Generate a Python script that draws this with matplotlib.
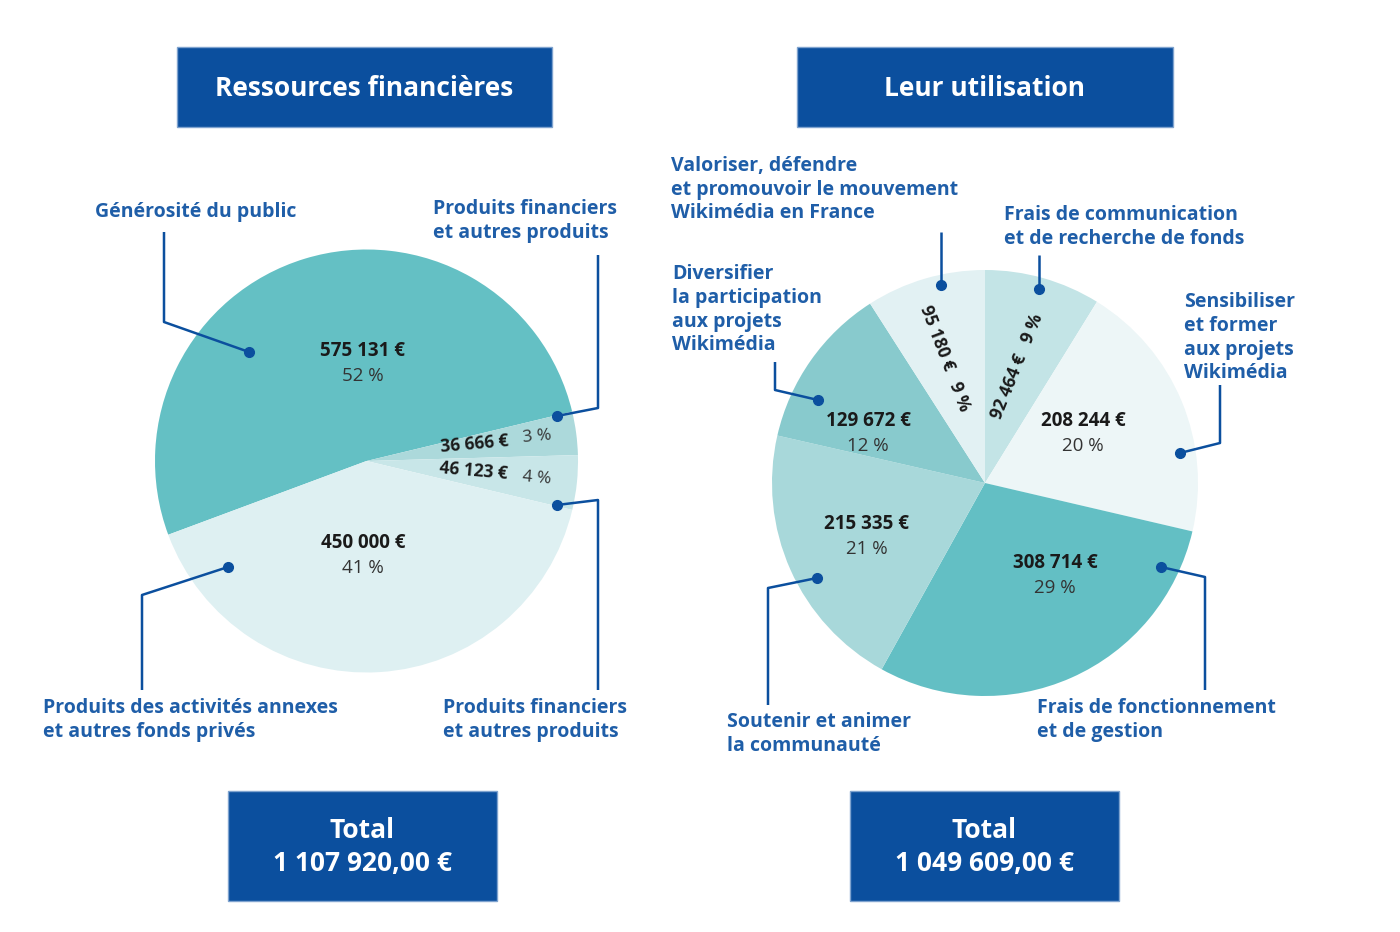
import matplotlib.pyplot as plt
from matplotlib.patches import Rectangle

# données
ressources_labels = ['Générosité du public',
                     'Produits financiers\net autres produits',
                     'Produits financiers\net autres produits',
                     'Produits des activités annexes\net autres fonds privés']
ressources_values = [575131, 36666, 46123, 450000]
ressources_pct = ['52 %', '3 %', '4 %', '41 %']
ressources_colors = ['#64c0c4', '#acd9db', '#c8e6e8', '#def0f2']

emplois_labels = ['Frais de communication\net de recherche de fonds',
                  'Sensibiliser\net former\naux projets\nWikimédia',
                  'Frais de fonctionnement\net de gestion',
                  'Soutenir et animer\nla communauté',
                  'Diversifier\nla participation\naux projets\nWikimédia',
                  'Valoriser, défendre\net promouvoir le mouvement\nWikimédia en France']
emplois_values = [92464, 208244, 308714, 215335, 129672, 95180]
emplois_pct = ['9 %', '20 %', '29 %', '21 %', '12 %', '9 %']
emplois_colors = ['#c3e4e6', '#edf6f7', '#63bfc4', '#a8d8da', '#88cacd', '#e2f1f3']

total_ressources = '1 107 920,00 €'
total_emplois = '1 049 609,00 €'

W, H = 1400, 932
BLUE = '#0b4f9e'
TXT = '#1f5ea8'
FONT = 'Open Sans'


def euro(v):
    return f'{v:,}'.replace(',', ' ') + ' €'


fig = plt.figure(figsize=(14, 9.32), dpi=100)


def pie_axes(cx, cy, r):
    ax = fig.add_axes([(cx - r) / W, (H - cy - r) / H, 2 * r / W, 2 * r / H])
    ax.axis('off')
    return ax


ax1 = pie_axes(366.5, 461, 211.5)
ax1.pie(ressources_values, colors=ressources_colors, startangle=200.4,
        counterclock=False, radius=1, wedgeprops=dict(linewidth=0))
ax1.set_xlim(-1, 1)
ax1.set_ylim(-1, 1)

ax2 = pie_axes(985, 483, 213)
ax2.pie(emplois_values, colors=emplois_colors, startangle=90,
        counterclock=False, radius=1, wedgeprops=dict(linewidth=0))
ax2.set_xlim(-1, 1)
ax2.set_ylim(-1, 1)

# calque en pixels
ov = fig.add_axes([0, 0, 1, 1], facecolor='none')
ov.set_xlim(0, W)
ov.set_ylim(H, 0)
ov.axis('off')


def box(x0, y0, x1, y1, lines, size):
    ov.add_patch(Rectangle((x0, y0), x1 - x0, y1 - y0, facecolor=BLUE,
                           edgecolor='#7fa3cf', linewidth=1))
    ov.text((x0 + x1) / 2, (y0 + y1) / 2 + 1, lines, ha='center', va='center',
            color='white', fontsize=size, fontweight='bold', family=FONT,
            linespacing=1.25)


box(177, 47, 552, 127, 'Ressources financières', 19)
box(797, 47, 1173, 127, 'Leur utilisation', 19)
box(228, 791, 497, 901, 'Total\n' + total_ressources, 19)
box(850, 791, 1119, 901, 'Total\n' + total_emplois, 19)


def value(x, y, v, pct):
    ov.text(x, y, euro(v), ha='center', va='center', fontsize=13.5,
            fontweight='bold', color='#1a1a1a', family=FONT)
    ov.text(x, y + 25, pct, ha='center', va='center', fontsize=13.5,
            color='#333333', family=FONT)


def leader(pts, txt, tx, ty):
    xs = [p[0] for p in pts]
    ys = [p[1] for p in pts]
    ov.plot(xs, ys, color=BLUE, lw=1.8, solid_capstyle='butt')
    ov.plot(xs[0], ys[0], 'o', color=BLUE, ms=7)
    ov.text(tx, ty - 9, txt, ha='left', va='top', fontsize=14, fontweight='bold',
            color=TXT, family=FONT, linespacing=1.25)


# ressources
value(363, 351, ressources_values[0], ressources_pct[0])
value(363, 543, ressources_values[3], ressources_pct[3])
ov.text(475, 444, euro(ressources_values[1]), ha='center', va='center',
        fontsize=12.5, fontweight='bold', color='#1a1a1a', family=FONT, rotation=5)
ov.text(537, 437, ressources_pct[1], ha='center', va='center', fontsize=12.5,
        color='#333333', family=FONT, rotation=5)
ov.text(473, 471, euro(ressources_values[2]), ha='center', va='center',
        fontsize=12.5, fontweight='bold', color='#1a1a1a', family=FONT, rotation=-5)
ov.text(537, 478, ressources_pct[2], ha='center', va='center', fontsize=12.5,
        color='#333333', family=FONT, rotation=-5)

leader([(249, 352), (164, 322), (164, 232)], ressources_labels[0], 95, 211)
leader([(557, 416), (598, 408), (598, 255)], ressources_labels[1], 433, 208)
leader([(557, 505), (598, 500), (598, 690)], ressources_labels[2], 443, 707)
leader([(228, 567), (142, 595), (142, 690)], ressources_labels[3], 43, 707)

# emplois
value(868, 421, emplois_values[4], emplois_pct[4])
value(867, 524, emplois_values[3], emplois_pct[3])
value(1055, 563, emplois_values[2], emplois_pct[2])
value(1083, 421, emplois_values[1], emplois_pct[1])
ov.text(945, 358, euro(emplois_values[5]) + '   ' + emplois_pct[5], ha='center',
        va='center', fontsize=12.5, fontweight='bold', color='#1a1a1a',
        family=FONT, rotation=-69)
ov.text(1017, 366, euro(emplois_values[0]) + '   ' + emplois_pct[0], ha='center',
        va='center', fontsize=12.5, fontweight='bold', color='#1a1a1a',
        family=FONT, rotation=68)

leader([(1039, 289), (1039, 255)], emplois_labels[0], 1004, 214)
leader([(1180, 453), (1220, 443), (1220, 385)], emplois_labels[1], 1184, 301)
leader([(1161, 567), (1205, 577), (1205, 690)], emplois_labels[2], 1037, 707)
leader([(817, 578), (768, 588), (768, 705)], emplois_labels[3], 727, 721)
leader([(818, 400), (775, 390), (775, 362)], emplois_labels[4], 672, 273)
leader([(941, 285), (941, 232)], emplois_labels[5], 671, 165)

fig.savefig('out.png', dpi=100, facecolor='white')
